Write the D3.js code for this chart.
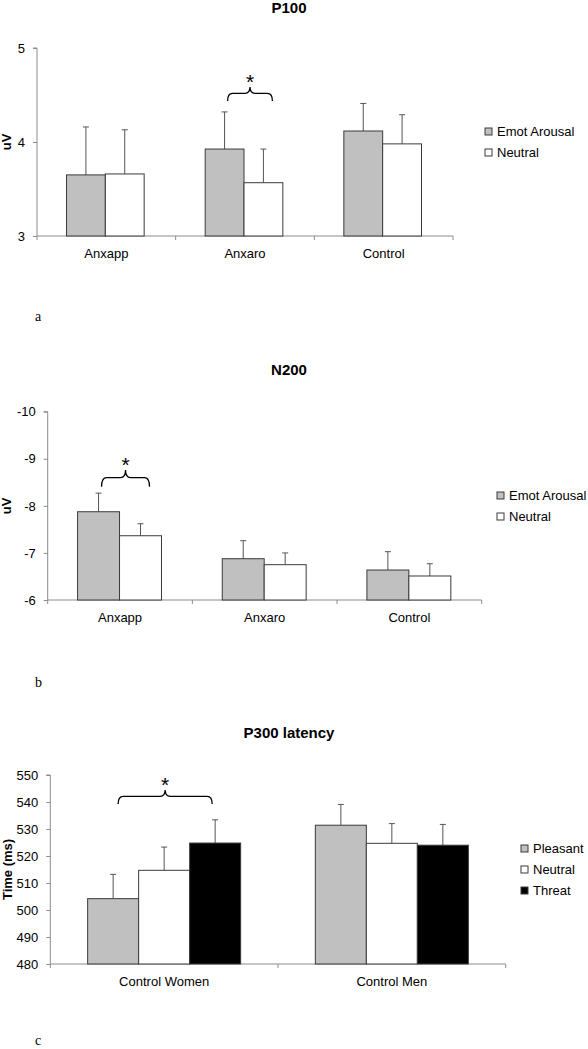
<!DOCTYPE html>
<html>
<head>
<meta charset="utf-8">
<script src="https://cdn.jsdelivr.net/npm/d3@7"></script>
<style>
  html, body { margin: 0; padding: 0; background: #fff; }
  svg { display: block; }
</style>
</head>
<body>
<svg id="chart" width="588" height="1049" font-family="Arial, 'Liberation Sans', sans-serif"></svg>
<script>
// ---------- DATA ----------
// Panel a: P100
const p100Categories = ["Anxapp", "Anxaro", "Control"];
const p100Series = ["Emot Arousal", "Neutral"];
const p100Values = [[3.65, 3.66], [3.925, 3.567], [4.117, 3.98]];
const p100ErrTop = [[4.16, 4.13], [4.32, 3.925], [4.41, 4.29]];
const p100Ticks = [3, 4, 5];
const p100Sig = ["Anxaro", 4.585, 4.436];

// Panel b: N200
const n200Categories = ["Anxapp", "Anxaro", "Control"];
const n200Series = ["Emot Arousal", "Neutral"];
const n200Values = [[-7.875, -7.365], [-6.877, -6.75], [-6.637, -6.51]];
const n200ErrTop = [[-8.27, -7.62], [-7.26, -7.0], [-7.026, -6.77]];
const n200Ticks = [-10, -9, -8, -7, -6];
const n200Sig = ["Anxapp", -8.76, -8.405];

// Panel c: P300 latency
const p300Categories = ["Control Women", "Control Men"];
const p300Series = ["Pleasant", "Neutral", "Threat"];
const p300Values = [[504.2, 514.7, 524.8], [531.4, 524.7, 524.0]];
const p300ErrTop = [[513.2, 523.3, 533.4], [539.1, 532.0, 531.7]];
const p300Ticks = [480, 490, 500, 510, 520, 530, 540, 550];
const p300Sig = ["Control Women", 544.4, 539.3];

// ---------- STYLE / LAYOUT ----------
const fills = { "Emot Arousal": "#c0c0c0", "Pleasant": "#c0c0c0", "Neutral": "#ffffff", "Threat": "#000000" };
const svg = d3.select("#chart");

function drawPanel(cfg) {
  const g = svg.append("g");
  const y = d3.scaleLinear().domain(cfg.domain).range([cfg.bottom, cfg.top]);
  const x0 = d3.scaleBand().domain(cfg.categories).range([cfg.left, cfg.right]);
  const groupW = x0.bandwidth() * cfg.groupFrac;
  const x1 = d3.scaleBand().domain(cfg.series).range([0, groupW]);
  const gx = c => x0(c) + (x0.bandwidth() - groupW) / 2 + cfg.groupShift;

  // title
  g.append("text").attr("x", cfg.titleX).attr("y", cfg.titleY)
    .attr("text-anchor", "middle").attr("font-weight", "bold").attr("font-size", 15)
    .text(cfg.title);

  // y axis
  const yAxis = d3.axisLeft(y).tickValues(cfg.ticks).tickSize(4).tickPadding(8)
    .tickFormat(d => String(d));
  const ya = g.append("g").attr("transform", `translate(${cfg.left},0)`).call(yAxis);
  ya.attr("font-family", null).attr("font-size", null);
  ya.selectAll("path, line").attr("stroke", "#8c8c8c");
  ya.select(".domain").attr("d", `M-4,${cfg.top}H0V${cfg.bottom}`);
  ya.selectAll("text").attr("fill", "#000").attr("font-size", 13);

  // y label
  g.append("text")
    .attr("transform", `translate(${cfg.yLabelX},${(cfg.top + cfg.bottom) / 2}) rotate(-90)`)
    .attr("text-anchor", "middle").attr("font-weight", "bold").attr("font-size", 13)
    .text(cfg.yLabel);

  // x axis line and boundary ticks
  g.append("line").attr("x1", cfg.left).attr("x2", cfg.right)
    .attr("y1", cfg.bottom).attr("y2", cfg.bottom).attr("stroke", "#8c8c8c");
  const bounds = cfg.categories.map(c => x0(c)).concat([cfg.right]);
  g.selectAll(".bt").data(bounds).enter().append("line")
    .attr("x1", d => d).attr("x2", d => d)
    .attr("y1", cfg.bottom).attr("y2", cfg.bottom + 4).attr("stroke", "#8c8c8c");
  g.selectAll(".cl").data(cfg.categories).enter().append("text")
    .attr("x", c => x0(c) + x0.bandwidth() / 2).attr("y", cfg.bottom + 22)
    .attr("text-anchor", "middle").attr("font-size", 13).text(c => c);

  // bars
  const flat = [];
  cfg.categories.forEach((c, i) => cfg.series.forEach((s, j) => {
    flat.push({ c, s, v: cfg.values[i][j], e: cfg.err[i][j] });
  }));
  const base = cfg.domain[0];
  const eb = g.selectAll(".eb").data(flat).enter().append("g");
  eb.append("line")
    .attr("x1", d => gx(d.c) + x1(d.s) + x1.bandwidth() / 2)
    .attr("x2", d => gx(d.c) + x1(d.s) + x1.bandwidth() / 2)
    .attr("y1", d => y(d.v)).attr("y2", d => y(d.e))
    .attr("stroke", "#555").attr("stroke-width", 1);
  eb.append("line")
    .attr("x1", d => gx(d.c) + x1(d.s) + x1.bandwidth() / 2 - 3)
    .attr("x2", d => gx(d.c) + x1(d.s) + x1.bandwidth() / 2 + 3)
    .attr("y1", d => y(d.e)).attr("y2", d => y(d.e))
    .attr("stroke", "#555").attr("stroke-width", 1);
  g.selectAll(".bar").data(flat).enter().append("rect")
    .attr("x", d => gx(d.c) + x1(d.s))
    .attr("y", d => y(d.v))
    .attr("width", x1.bandwidth())
    .attr("height", d => y(base) - y(d.v))
    .attr("fill", d => fills[d.s])
    .attr("stroke", "#3a3a3a").attr("stroke-width", 1);

  // significance brace
  const [sc, tipV, endV] = cfg.sig;
  const firstS = cfg.series[0], lastS = cfg.series[cfg.series.length - 1];
  const bx1 = gx(sc) + x1(firstS) + x1.bandwidth() / 2 + cfg.braceShift[0];
  const bx2 = gx(sc) + x1(lastS) + x1.bandwidth() / 2 + cfg.braceShift[1];
  const yt = y(tipV), ye = y(endV), ym = yt + (ye - yt) * 0.45;
  const bm = (bx1 + bx2) / 2;
  const r = 5;
  const p = d3.path();
  p.moveTo(bx1, ye);
  p.quadraticCurveTo(bx1, ym, bx1 + r, ym);
  p.lineTo(bm - r, ym);
  p.quadraticCurveTo(bm, ym, bm, yt);
  p.quadraticCurveTo(bm, ym, bm + r, ym);
  p.lineTo(bx2 - r, ym);
  p.quadraticCurveTo(bx2, ym, bx2, ye);
  g.append("path").attr("d", p.toString()).attr("fill", "none")
    .attr("stroke", "#000").attr("stroke-width", 1.3);
  g.append("text").attr("x", bm).attr("y", yt + 2).attr("text-anchor", "middle")
    .attr("font-size", 21).text("*");

  // legend
  const lg = g.selectAll(".lg").data(cfg.series).enter().append("g")
    .attr("transform", (d, i) => `translate(${cfg.legendX},${cfg.legendY + i * cfg.legendStep})`);
  lg.append("rect").attr("x", 0).attr("y", -8).attr("width", 7).attr("height", 7)
    .attr("fill", d => fills[d]).attr("stroke", "#3a3a3a");
  lg.append("text").attr("x", 12).attr("y", 0).attr("font-size", 13).text(d => d);

  // panel letter
  svg.append("text").attr("x", 35).attr("y", cfg.letterY)
    .attr("font-family", "'Liberation Serif', 'Times New Roman', serif")
    .attr("font-size", 14).text(cfg.letter);
}

drawPanel({
  title: "P100", titleX: 289, titleY: 13,
  categories: p100Categories, series: p100Series, values: p100Values, err: p100ErrTop,
  ticks: p100Ticks, domain: [3, 5], sig: p100Sig,
  top: 48, bottom: 236, left: 37, right: 453,
  groupFrac: 0.56, groupShift: -1, braceShift: [3, 9],
  yLabel: "uV", yLabelX: 11,
  legendX: 485, legendY: 136, legendStep: 21,
  letter: "a", letterY: 321
});

drawPanel({
  title: "N200", titleX: 289, titleY: 375,
  categories: n200Categories, series: n200Series, values: n200Values, err: n200ErrTop,
  ticks: n200Ticks, domain: [-6, -10], sig: n200Sig,
  top: 411.7, bottom: 600, left: 47.7, right: 481.7,
  groupFrac: 0.58, groupShift: -0.5, braceShift: [3, 9],
  yLabel: "uV", yLabelX: 11,
  legendX: 497, legendY: 500, legendStep: 21,
  letter: "b", letterY: 687
});

drawPanel({
  title: "P300 latency", titleX: 289, titleY: 738,
  categories: p300Categories, series: p300Series, values: p300Values, err: p300ErrTop,
  ticks: p300Ticks, domain: [480, 550], sig: p300Sig,
  top: 775, bottom: 964, left: 50.3, right: 505.7,
  groupFrac: 0.672, groupShift: 0, braceShift: [5, -3],
  yLabel: "Time (ms)", yLabelX: 12,
  legendX: 521, legendY: 853, legendStep: 21,
  letter: "c", letterY: 1045
});
</script>
</body>
</html>
